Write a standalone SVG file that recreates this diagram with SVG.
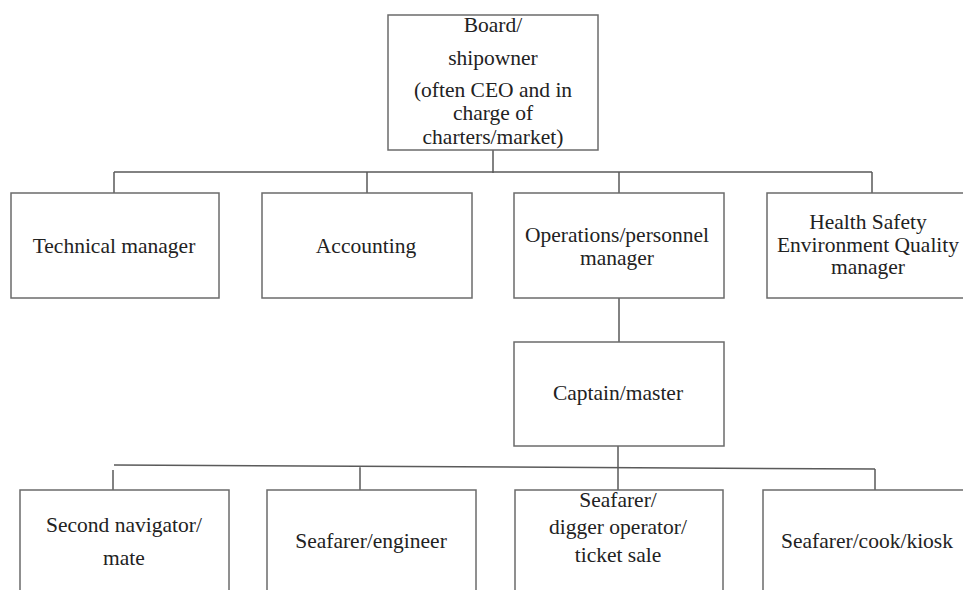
<svg xmlns="http://www.w3.org/2000/svg" width="963" height="590" viewBox="0 0 963 590">
<style>
.box{fill:#fff;stroke:#6b6b6b;stroke-width:1.5}
.ln{fill:none;stroke:#5a5a5a;stroke-width:1.5}
text{font-family:"Liberation Serif","Times New Roman",serif;font-size:21.5px;fill:#222;text-anchor:middle}
</style>
<rect width="963" height="590" fill="#fff"/>
<g id="connectors">
<path class="ln" d="M493 150V173M114 172H872M114 172V193M367 172V193M619 172V193M872 172V193"/>
<path class="ln" d="M619 298V342M618 446V490"/>
<path class="ln" d="M114 465L875 469M113 470V490M360 466V490M875 469V495"/>
</g>
<g id="board"><rect class="box" x="388" y="15" width="210" height="135"/>
<text x="493" y="32">Board/</text><text x="493" y="65">shipowner</text><text x="493" y="97">(often CEO and in</text><text x="493" y="120">charge of</text><text x="493" y="144">charters/market)</text></g>
<g id="technical"><rect class="box" x="11" y="193" width="208" height="105"/><text x="114" y="253">Technical  manager</text></g>
<g id="accounting"><rect class="box" x="262" y="193" width="210" height="105"/><text x="366" y="253">Accounting</text></g>
<g id="operations"><rect class="box" x="514" y="193" width="210" height="105"/><text x="617" y="242">Operations/personnel</text><text x="617" y="265">manager</text></g>
<g id="hseq"><rect class="box" x="767" y="193" width="210" height="105"/><text x="868" y="229">Health Safety</text><text x="868" y="252">Environment Quality</text><text x="868" y="274">manager</text></g>
<g id="captain"><rect class="box" x="514" y="342" width="210" height="104"/><text x="618" y="400">Captain/master</text></g>
<g id="mate"><rect class="box" x="20" y="490" width="209" height="120"/><text x="124" y="532">Second navigator/</text><text x="124" y="565">mate</text></g>
<g id="engineer"><rect class="box" x="267" y="490" width="209" height="120"/><text x="371" y="548">Seafarer/engineer</text></g>
<g id="digger"><rect class="box" x="515" y="490" width="208" height="120"/><text x="618" y="507">Seafarer/</text><text x="618" y="534">digger operator/</text><text x="618" y="562">ticket sale</text></g>
<g id="cook"><rect class="box" x="763" y="490" width="210" height="120"/><text x="867" y="548">Seafarer/cook/kiosk</text></g>
</svg>
